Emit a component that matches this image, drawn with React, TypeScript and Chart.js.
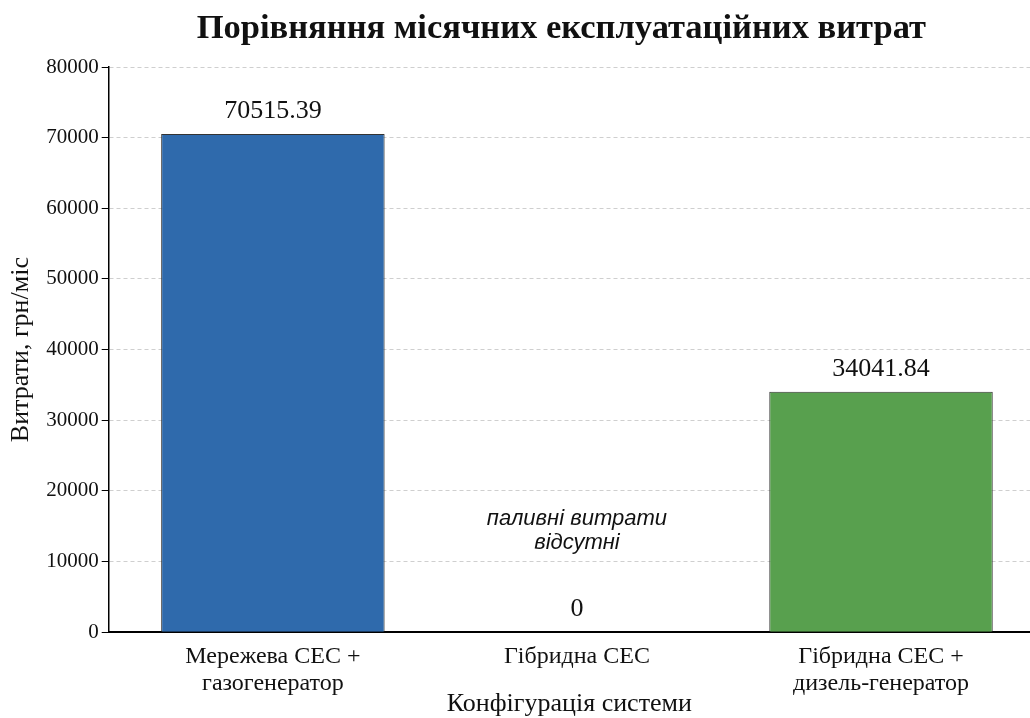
import React, { useEffect, useRef } from "react";
import { Chart, registerables } from "chart.js";

Chart.register(...registerables);

const categories: string[][] = [
  ["Мережева СЕС +", "газогенератор"],
  ["Гібридна СЕС"],
  ["Гібридна СЕС +", "дизель-генератор"],
];
const costs: number[] = [70515.39, 0, 34041.84];
const valueLabels: string[] = ["70515.39", "0", "34041.84"];
const barColors: string[] = ["#2f6aac", "#a0a0a0", "#58a04e"];
const noteLines: string[] = ["паливні витрати", "відсутні"];
const noteCategory = 1;
const noteValue = 14400;
const yMax = 80000;
const yStep = 10000;
const titleText = "Порівняння місячних експлуатаційних витрат";
const yTitle = "Витрати, грн/міс";
const xTitle = "Конфігурація системи";

const SERIF = "'Liberation Serif', 'DejaVu Serif', serif";
const SANS = "'Liberation Sans', 'DejaVu Sans', sans-serif";

const labelPlugin = {
  id: "valueLabels",
  afterDatasetsDraw(chart: any) {
    const { ctx, chartArea } = chart;
    const meta = chart.getDatasetMeta(0);
    const midX = (chartArea.left + chartArea.right) / 2;
    ctx.save();
    ctx.fillStyle = "#111";
    ctx.textAlign = "center";
    ctx.textBaseline = "bottom";
    ctx.font = `26px ${SERIF}`;
    meta.data.forEach((bar: any, i: number) => {
      ctx.fillText(valueLabels[i], bar.x, bar.y - 10);
    });
    const xs = chart.scales.x;
    const ys = chart.scales.y;
    const cx = xs.getPixelForValue(noteCategory);
    const cy = ys.getPixelForValue(noteValue);
    ctx.font = `italic 22px ${SANS}`;
    ctx.textBaseline = "middle";
    const lh = 24;
    noteLines.forEach((line, i) => {
      ctx.fillText(line, cx, cy + (i - (noteLines.length - 1) / 2) * lh);
    });
    // x-axis title
    ctx.font = `26px ${SERIF}`;
    ctx.textBaseline = "middle";
    ctx.fillText(xTitle, midX, chartArea.bottom + 72);
    // chart title
    ctx.font = `bold 34.5px ${SERIF}`;
    ctx.textBaseline = "alphabetic";
    ctx.fillText(titleText, midX - 8, chartArea.top - 29);
    ctx.restore();
  },
};

export default function App() {
  const ref = useRef<HTMLCanvasElement | null>(null);
  useEffect(() => {
    if (!ref.current) return;
    const chart = new Chart(ref.current, {
      type: "bar",
      data: {
        datasets: [
          {
            data: costs.map((v, i) => ({ x: i, y: v })),
            backgroundColor: barColors,
            borderColor: "#333",
            borderWidth: 1,
            barPercentage: 0.735,
            categoryPercentage: 1,
          },
        ],
      },
      plugins: [labelPlugin],
      options: {
        animation: false,
        responsive: false,
        devicePixelRatio: 1,
        layout: { padding: { left: 6, right: 0, top: 67, bottom: 10 } },
        plugins: {
          legend: { display: false },
          tooltip: { enabled: false },
          title: { display: false },
        },
        scales: {
          x: {
            type: "linear",
            offset: false,
            min: -0.54,
            max: 2.49,
            afterBuildTicks: (scale: any) => {
              scale.ticks = categories.map((_, i) => ({ value: i }));
            },
            ticks: {
              color: "#111",
              font: { family: SERIF, size: 24, lineHeight: 1.12 },
              padding: 11,
              callback: (v: any) => categories[Math.round(Number(v))] ?? "",
              maxRotation: 0,
              autoSkip: false,
            },
            grid: { display: false, drawTicks: false },
            border: { display: true, color: "#000", width: 2 },
          },
          y: {
            min: 0,
            max: yMax,
            ticks: {
              stepSize: yStep,
              color: "#111",
              font: { family: SERIF, size: 21 },
              padding: 3,
              callback: (v: any) => String(v),
            },
            grid: {
              color: "#cfcfcf",
              lineWidth: 1,
              tickColor: "#000",
              tickLength: 7,
              tickBorderDash: [],
            },
            border: { display: true, color: "#000", width: 1.5, dash: [4, 3] },
            title: {
              display: true,
              text: yTitle,
              color: "#111",
              font: { family: SERIF, size: 26, lineHeight: 1.2 },
              padding: { top: 0, bottom: 6 },
            },
          },
        },
      },
    } as any);
    return () => chart.destroy();
  }, []);
  return (
    <div style={{ position: "absolute", left: 0, top: 0, width: 1030, height: 718, background: "#fff" }}>
      <canvas ref={ref} width={1030} height={718} />
    </div>
  );
}
